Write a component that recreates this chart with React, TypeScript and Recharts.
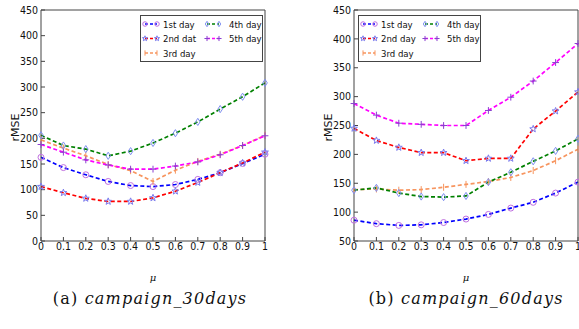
import React from 'react';
import { LineChart, Line, XAxis, YAxis, Legend } from 'recharts';

// ---------- data ----------
const mu = [0, 0.1, 0.2, 0.3, 0.4, 0.5, 0.6, 0.7, 0.8, 0.9, 1];
const xTicks = [0, 0.1, 0.2, 0.3, 0.4, 0.5, 0.6, 0.7, 0.8, 0.9, 1];
const yTicks30 = [0, 50, 100, 150, 200, 250, 300, 350, 400, 450];
const yTicks60 = [50, 100, 150, 200, 250, 300, 350, 400, 450];

const names30 = ['1st day', '2nd dat', '3rd day', '4th day', '5th day'];
const names60 = ['1st day', '2nd day', '3rd day', '4th day', '5th day'];

const day1_30 = [163, 143, 129, 116, 108, 106, 110, 120, 133, 151, 169];
const day2_30 = [106, 94, 83, 77, 77, 84, 97, 114, 133, 152, 173];
const day3_30 = [197, 181, 166, 149, 137, 116, 138, 155, 169, 186, 206];
const day4_30 = [206, 186, 179, 166, 175, 191, 210, 232, 257, 281, 308];
const day5_30 = [188, 173, 158, 148, 140, 140, 146, 154, 168, 186, 205];

const day1_60 = [86, 80, 77, 78, 82, 88, 96, 107, 117, 133, 152];
const day2_60 = [245, 224, 212, 203, 203, 189, 193, 193, 244, 275, 308];
const day3_60 = [139, 140, 138, 139, 143, 148, 153, 160, 172, 189, 209];
const day4_60 = [138, 142, 133, 127, 126, 128, 152, 169, 188, 206, 227];
const day5_60 = [288, 268, 254, 252, 250, 250, 276, 299, 327, 359, 392];

const captionA = ['(a)', 'campaign_30days'];
const captionB = ['(b)', 'campaign_60days'];
const xLabel = 'μ';
const yLabel = 'rMSE';

// ---------- styles ----------
const keys = ['d1', 'd2', 'd3', 'd4', 'd5'];
const lineColors = ['#0000ff', '#ff0000', '#f7955f', '#008000', '#ff00ff'];
const markerColors = ['#c070e0', '#7a7aee', '#f7955f', '#7f8ff0', '#8a3fd0'];
const markerShapes = ['circle', 'star', 'vline', 'diamond', 'plus'];

const SANS = "'DejaVu Sans Condensed', 'DejaVu Sans', sans-serif";
const FRAME = '#444';

function buildTable(cols: number[][]) {
  return mu.map((m, i) => {
    const row: Record<string, number> = { mu: m };
    cols.forEach((c, j) => {
      row[keys[j]] = c[i];
    });
    return row;
  });
}

const data30 = buildTable([day1_30, day2_30, day3_30, day4_30, day5_30]);
const data60 = buildTable([day1_60, day2_60, day3_60, day4_60, day5_60]);

function Marker({ shape, x, y, color, s = 1 }: { shape: string; x: number; y: number; color: string; s?: number }) {
  const sw = 1;
  switch (shape) {
    case 'circle':
      return <circle cx={x} cy={y} r={3 * s} fill="none" stroke={color} strokeWidth={sw} />;
    case 'star': {
      const pts: string[] = [];
      for (let k = 0; k < 10; k++) {
        const r = (k % 2 === 0 ? 3.6 : 1.5) * s;
        const a = -Math.PI / 2 + (k * Math.PI) / 5;
        pts.push(`${x + r * Math.cos(a)},${y + r * Math.sin(a)}`);
      }
      return <polygon points={pts.join(' ')} fill="none" stroke={color} strokeWidth={sw} />;
    }
    case 'vline':
      return <line x1={x} x2={x} y1={y - 3.5 * s} y2={y + 3.5 * s} stroke={color} strokeWidth={sw} />;
    case 'diamond':
      return (
        <polygon
          points={`${x},${y - 3.6 * s} ${x + 2.3 * s},${y} ${x},${y + 3.6 * s} ${x - 2.3 * s},${y}`}
          fill="none"
          stroke={color}
          strokeWidth={sw}
        />
      );
    case 'plus':
      return (
        <path
          d={`M${x - 3.4 * s},${y}H${x + 3.4 * s}M${x},${y - 3.4 * s}V${y + 3.4 * s}`}
          stroke={color}
          strokeWidth={sw}
          fill="none"
        />
      );
    default:
      return null;
  }
}

const makeDot = (i: number) => (props: any) => {
  const { cx, cy, index } = props;
  if (cx == null || cy == null) return <g key={index} />;
  return (
    <g key={index}>
      <Marker shape={markerShapes[i]} x={cx} y={cy} color={markerColors[i]} />
    </g>
  );
};

const fmtX = (v: number) => (v === 0 ? '0' : v === 1 ? '1' : v.toFixed(1));

function LegendBox({ names }: { names: string[] }) {
  return (
    <svg width={123} height={47} style={{ display: 'block' }}>
      <rect x={0.5} y={0.5} width={122} height={46} fill="#fff" stroke={FRAME} strokeWidth={1} />
      {names.map((n, i) => {
        const col = i < 3 ? 0 : 1;
        const row = i < 3 ? i : i - 3;
        const x0 = col === 0 ? 5 : 67;
        const tx = col === 0 ? 23 : 89;
        const y = 9 + row * 14.5;
        return (
          <g key={n}>
            <line x1={x0} x2={x0 + 12} y1={y} y2={y} stroke={lineColors[i]} strokeWidth={1.5} strokeDasharray="3 2" />
            <Marker shape={markerShapes[i]} x={x0} y={y} color={markerColors[i]} s={0.75} />
            <Marker shape={markerShapes[i]} x={x0 + 12} y={y} color={markerColors[i]} s={0.75} />
            <text x={tx} y={y} dominantBaseline="central" fontSize={9.5} fontFamily={SANS} fill="#111">
              {n}
            </text>
          </g>
        );
      })}
    </svg>
  );
}

const MuLabel = (props: any) => {
  const vb = props.viewBox || {};
  return (
    <text
      x={vb.x + vb.width / 2}
      y={vb.y + 36}
      textAnchor="middle"
      dominantBaseline="central"
      fontSize={10}
      fontStyle="italic"
      fontFamily="'DejaVu Serif', serif"
      fill="#111"
    >
      {xLabel}
    </text>
  );
};

const RmseLabel = (props: any) => {
  const vb = props.viewBox || {};
  const x = vb.x + 9;
  const y = vb.y + vb.height / 2 + 2;
  return (
    <text
      x={x}
      y={y}
      transform={`rotate(-90 ${x} ${y})`}
      textAnchor="middle"
      dominantBaseline="central"
      fontSize={11}
      fontFamily="'DejaVu Sans', sans-serif"
      fill="#111"
    >
      {yLabel}
    </text>
  );
};

function Panel({
  data,
  names,
  yDomain,
  yTicks,
  width,
  margin,
  legendLeft,
}: {
  data: any[];
  names: string[];
  yDomain: [number, number];
  yTicks: number[];
  width: number;
  margin: { top: number; right: number; bottom: number; left: number };
  legendLeft: number;
}) {
  const tickStyle = { fill: '#111', fontSize: 10.5, fontFamily: SANS };
  return (
    <LineChart width={width} height={285} data={data} margin={margin}>
      <XAxis
        xAxisId="b"
        dataKey="mu"
        type="number"
        domain={[0, 1]}
        ticks={xTicks}
        interval={0}
        tickFormatter={fmtX}
        tickSize={-4}
        tickMargin={6}
        height={20}
        stroke={FRAME}
        tick={tickStyle}
        label={<MuLabel />}
      />
      <XAxis
        xAxisId="t"
        orientation="top"
        dataKey="mu"
        type="number"
        domain={[0, 1]}
        ticks={xTicks}
        interval={0}
        tick={false}
        tickSize={-4}
        height={1}
        stroke={FRAME}
      />
      <YAxis
        yAxisId="l"
        type="number"
        domain={yDomain}
        ticks={yTicks}
        interval={0}
        tickSize={-4}
        tickMargin={7}
        width={35}
        stroke={FRAME}
        tick={tickStyle}
        label={<RmseLabel />}
      />
      <YAxis
        yAxisId="r"
        orientation="right"
        type="number"
        domain={yDomain}
        ticks={yTicks}
        interval={0}
        tick={false}
        tickSize={-4}
        width={1}
        stroke={FRAME}
      />
      <Legend
        layout="vertical"
        align="center"
        verticalAlign="middle"
        content={() => <LegendBox names={names} />}
        wrapperStyle={{ position: 'absolute', left: legendLeft, top: 15, width: 123, height: 47 }}
      />
      {keys.map((k, i) => (
        <Line
          key={k}
          xAxisId="b"
          yAxisId="l"
          dataKey={k}
          name={names[i]}
          type="linear"
          stroke={lineColors[i]}
          strokeWidth={1.7}
          strokeDasharray="4 2.5"
          dot={makeDot(i)}
          activeDot={false}
          isAnimationActive={false}
        />
      ))}
    </LineChart>
  );
}

function Caption({ parts, center }: { parts: string[]; center: number }) {
  return (
    <div
      style={{
        position: 'absolute',
        left: center,
        top: 289,
        transform: 'translateX(-50%)',
        whiteSpace: 'nowrap',
        fontFamily: "'DejaVu Serif', serif",
        fontSize: 16,
        lineHeight: '20px',
        letterSpacing: '1.2px',
        color: '#111',
      }}
    >
      <span>{parts[0]} </span>
      <span style={{ fontStyle: 'italic' }}>{parts[1]}</span>
    </div>
  );
}

export default function App() {
  return (
    <div
      style={{
        position: 'fixed',
        left: 0,
        top: 0,
        width: 579,
        height: 329,
        background: '#fff',
        overflow: 'hidden',
      }}
    >
      <div style={{ position: 'absolute', left: 0, top: 0 }}>
        <Panel
          data={data30}
          names={names30}
          yDomain={[0, 450]}
          yTicks={yTicks30}
          width={290}
          margin={{ top: 9, right: 24, bottom: 24, left: 6 }}
          legendLeft={140}
        />
      </div>
      <div style={{ position: 'absolute', left: 290, top: 0 }}>
        <Panel
          data={data60}
          names={names60}
          yDomain={[50, 450]}
          yTicks={yTicks60}
          width={289}
          margin={{ top: 9, right: 0, bottom: 24, left: 29 }}
          legendLeft={68}
        />
      </div>
      <Caption parts={captionA} center={150} />
      <Caption parts={captionB} center={466} />
    </div>
  );
}
